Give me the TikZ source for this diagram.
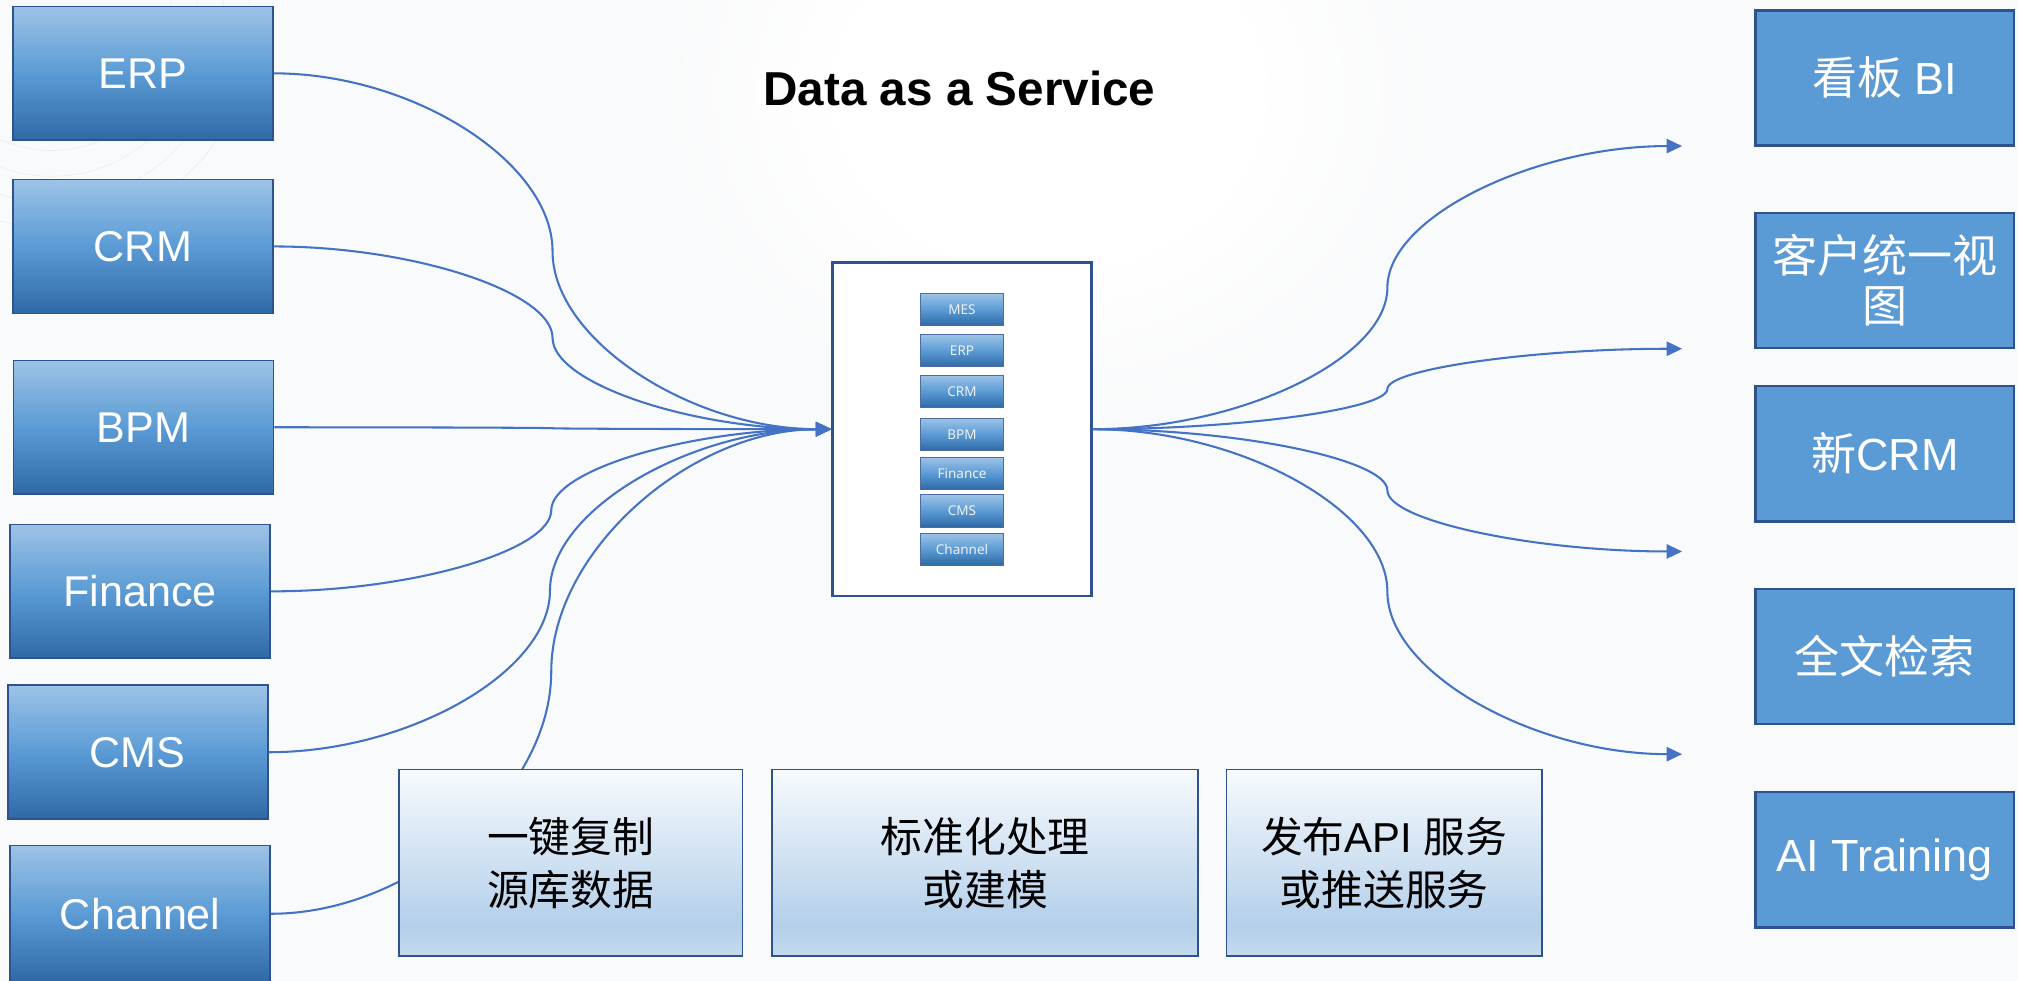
\documentclass[tikz,border=0pt]{standalone}
\usepackage{fontspec}
\setmainfont{Liberation Sans}
\newfontfamily\zhfont{Noto Sans CJK SC}
\newfontfamily\tagfont{Noto Sans}
\usetikzlibrary{calc,arrows.meta}

\definecolor{bgc}{HTML}{F9FAFB}
\definecolor{bdr}{HTML}{2F528F}
\definecolor{lTop}{HTML}{9DC3E6}
\definecolor{lMid}{HTML}{5B9BD5}
\definecolor{lBot}{HTML}{2E69A6}
\definecolor{rFill}{HTML}{5B9BD5}
\definecolor{linkc}{HTML}{4472C4}
\definecolor{bTop}{HTML}{F7FAFD}
\definecolor{bMid}{HTML}{B3CFEA}
\definecolor{bBot}{HTML}{C6DAEE}

% pale blue panel shading: light top, darkest band just above the bottom
\pgfdeclareverticalshading{panelshade}{100bp}{color(0bp)=(bBot); color(25bp)=(bBot);
  color(33bp)=(bMid); color(75bp)=(bTop); color(100bp)=(bTop)}
% soft white glow behind the heading
\pgfdeclareradialshading{glow}{\pgfpoint{0bp}{0bp}}{color(0bp)=(white); color(13bp)=(white);
  color(25bp)=(bgc); color(50bp)=(bgc)}

\newcommand\zh[1]{{\zhfont #1}}
% elbow-like curved connector: horizontal at both ends, vertical at the midpoint
\newcommand\curvelink[3][]{%
  \coordinate (m) at ($(#2)!.5!(#3)$);
  \draw[link,#1] (#2) .. controls ($(#2)!.5!(#2-|m)$) and ($(m)!.5!(m|-#2)$) .. (m)
    .. controls ($(m)!.5!(m|-#3)$) and ($(#3)!.5!(m|-#3)$) .. (#3);}

\begin{document}
\begin{tikzpicture}[x=1pt,y=1pt,
  lbox/.style={draw=bdr, line width=1.3pt, top color=lTop, bottom color=lBot, middle color=lMid,
    text=white, minimum width=202pt, minimum height=104pt, inner sep=0pt,
    font=\fontsize{33.5}{40}\selectfont},
  rbox/.style={draw=bdr, line width=2pt, fill=rFill, text=white, align=center,
    minimum width=201pt, minimum height=105pt, inner sep=0pt,
    font=\fontsize{35}{39}\selectfont},
  bbox/.style={draw=bdr, line width=1.3pt, shading=panelshade, text=black, align=center,
    minimum height=145pt, inner sep=0pt, font=\fontsize{32.5}{41}\selectfont},
  hubbox/.style={draw=bdr, line width=2pt, fill=white, minimum width=201pt,
    minimum height=259pt, inner sep=0pt},
  ibox/.style={draw=bdr!85, line width=0.6pt, top color=lTop, bottom color=lBot, middle color=lMid,
    text=white!94!black, minimum width=65pt, minimum height=25pt, inner sep=0pt,
    font=\tagfont\fontsize{10.5}{11}\selectfont},
  heading/.style={font=\bfseries\fontsize{37}{42}\selectfont, text=black},
  link/.style={draw=linkc, line width=1.6pt},
  tip/.style={-{Triangle[length=12pt,width=11pt]}},
  faint/.style={draw=bgc!95!black, line width=0.5pt}]

\useasboundingbox (0,0) rectangle (1568,762);
\fill[bgc] (0,0) rectangle (1568,762);
\begin{scope}
  \clip (0,0) rectangle (1568,762);
  \shade[shading=glow] (815,690) ellipse [x radius=300, y radius=250];
  \foreach \r in {95,115,135,155} \draw[faint] (40,740) circle [radius=\r];
\end{scope}

% heading
\node[heading, anchor=base] (ttl) at (745.5,680) {Data as a Service};

% source systems
\node[lbox] (erp) at (111,705)   {ERP};
\node[lbox] (crm) at (111,570.5) {CRM};
\node[lbox] (bpm) at (111.5,430) {BPM};
\node[lbox] (fin) at (109,302.5) {Finance};
\node[lbox] (cms) at (107,177.5) {CMS};
\node[lbox, minimum height=106pt] (chn) at (109,52) {Channel};

% central data hub with its replicated sources
\node[hubbox] (hub) at (747.5,428.5) {};
\node[ibox] (hmes) at (747.5,521.5) {MES};
\node[ibox] (herp) at (747.5,489.5) {ERP};
\node[ibox] (hcrm) at (747.5,458)   {CRM};
\node[ibox] (hbpm) at (747.5,424.5) {BPM};
\node[ibox] (hfin) at (747.5,394.2) {Finance};
\node[ibox] (hcms) at (747.5,365)   {CMS};
\node[ibox] (hchn) at (747.5,335.3) {Channel};

% consumers
\node[rbox] (bi)   at (1464.5,701.5) {\zh{看板} BI};
\node[rbox] (cv)   at (1464.5,544)   {\zh{客户统一视}\\\zh{图}};
\node[rbox] (ncrm) at (1464.5,409.5) {\zh{新}CRM};
\node[rbox] (fts)  at (1464.5,252)   {\zh{全文检索}};
\node[rbox] (ait)  at (1464.5,94)    {AI Training};

% arrow ends on the consumer side
\coordinate (t1) at (1307,648.5);
\coordinate (t2) at (1307,491);
\coordinate (t3) at (1307,333.5);
\coordinate (t4) at (1307,176);

% inbound connectors
\curvelink[tip]{erp.east}{hub.west}
\curvelink[tip]{crm.east}{hub.west}
\curvelink[tip]{bpm.east}{hub.west}
\curvelink[tip]{fin.east}{hub.west}
\curvelink[tip]{cms.east}{hub.west}
\curvelink[tip]{chn.east}{hub.west}

% outbound connectors
\curvelink[tip]{hub.east}{t1}
\curvelink[tip]{hub.east}{t2}
\curvelink[tip]{hub.east}{t3}
\curvelink[tip]{hub.east}{t4}

% process steps
\node[bbox, minimum width=267pt] (copy) at (443.5,91.5) {\zh{一键复制}\\\zh{源库数据}};
\node[bbox, minimum width=331pt] (norm) at (765.5,91.5) {\zh{标准化处理}\\\zh{或建模}};
\node[bbox, minimum width=245pt] (pub)  at (1075.5,91.5) {\zh{发布}API \zh{服务}\\\zh{或推送服务}};
\end{tikzpicture}
\end{document}
